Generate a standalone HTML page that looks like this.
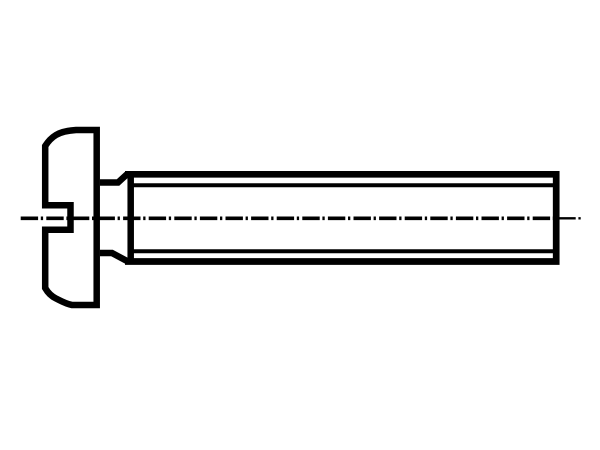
<!DOCTYPE html>
<html>
<head>
<meta charset="utf-8">
<style>
html,body{margin:0;padding:0;background:#fff;width:600px;height:450px;overflow:hidden}
svg{display:block}
</style>
</head>
<body>
<svg width="600" height="450" viewBox="0 0 600 450" xmlns="http://www.w3.org/2000/svg">
<rect width="600" height="450" fill="#fff"/>
<g fill="none" stroke="#000" stroke-linejoin="miter">
  <!-- head outline -->
  <path stroke-width="6.500" d="M96.700 130 H76 C68 130.500 61 132 56 135 C51 138 48 141.500 45.200 146 V205.200 H70.500 V229.800 H45.200 V288 C48 293 51 296 56 298.500 C61 301 66 304 72 305 H96.700 Z"/>
  <!-- neck and chamfer -->
  <path stroke-width="6.500" d="M100 182.500 H118 L127 174.300"/>
  <path stroke-width="6.500" d="M100 253 H112 L127 261"/>
  <!-- shaft outer -->
  <path stroke-width="6.700" d="M125 174.300 H556.200 V261.500 H125"/>
  <!-- thread root vertical -->
  <path stroke-width="6.500" d="M130.700 174 V261.500"/>
  <!-- thread lines -->
  <path stroke-width="4" d="M130 185.300 H553"/>
  <path stroke-width="4" d="M130 251.300 H553"/>
  <!-- center line -->
  <path stroke-width="3.600" stroke-dasharray="17.400 2.700 2.300 3.200" d="M20.700 218.300 H558"/>
  <path stroke-width="2.400" stroke-dasharray="17.400 2.700 2.300 3.200" d="M558.300 218.300 H581.500"/>
</g>
</svg>
</body>
</html>
